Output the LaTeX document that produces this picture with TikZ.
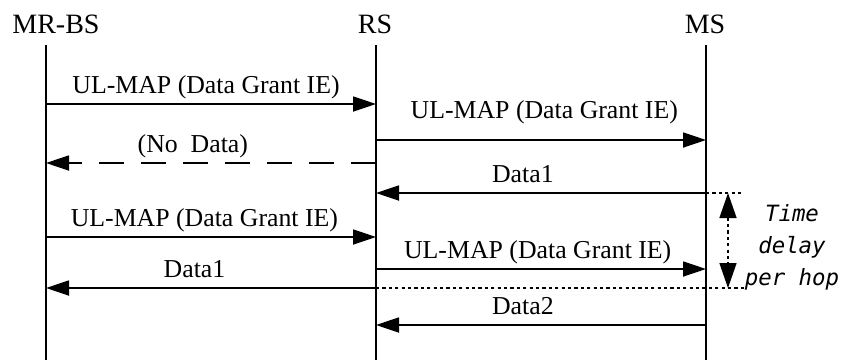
\documentclass[tikz,border=0pt]{standalone}
\usepackage{fontspec}
\setmainfont{Liberation Serif}
\newfontfamily\hopfont{DejaVu Sans Mono}
\usetikzlibrary{arrows.meta}

\begin{document}
\begin{tikzpicture}[x=0.5pt, y=-0.5pt, line width=0.9pt,
  msg/.style={-{Triangle[length=11.5pt,width=7.5pt]}},
  nodata/.style={msg, dash pattern=on 12.5pt off 8.5pt},
  fine/.style={line width=0.7pt, dash pattern=on 1.6pt off 1.6pt},
  lbl/.style={above, text depth=0pt, inner ysep=5pt,
              font=\fontsize{12.9}{15}\selectfont},
  head/.style={anchor=base, font=\fontsize{14}{16}\selectfont}]

\useasboundingbox (0,0) rectangle (841,360);

\node[head] (bs) at (56,33) {MR-BS};
\node[head] (rs) at (375,33) {RS};
\node[head] (ms) at (705,33) {MS};

\coordinate (bs0) at (46,45);  \coordinate (bs1) at (46,360);
\coordinate (rs0) at (376,45); \coordinate (rs1) at (376,360);
\coordinate (ms0) at (706,45); \coordinate (ms1) at (706,360);
\draw (bs0) -- (bs1);
\draw (rs0) -- (rs1);
\draw (ms0) -- (ms1);

\coordinate (r1) at (0,104);
\coordinate (r2) at (0,140);
\coordinate (r3) at (0,163);
\coordinate (r4) at (0,193);
\coordinate (r5) at (0,237);
\coordinate (r6) at (0,269);
\coordinate (r7) at (0,288);
\coordinate (r8) at (0,325);

\draw[msg] (bs0 |- r1) -- (rs0 |- r1)
  node[lbl, pos=0.485] {UL-MAP (Data Grant IE)};
\draw[msg] (rs0 |- r2) -- (ms0 |- r2)
  node[lbl, pos=0.51, yshift=5.5pt] {UL-MAP (Data Grant IE)};
\draw[nodata] (rs0 |- r3) -- (bs0 |- r3)
  node[lbl, pos=0.555] {(No\ \ Data)};
\draw[msg] (ms0 |- r4) -- (rs0 |- r4)
  node[lbl, pos=0.555] {Data1};
\draw[msg] (bs0 |- r5) -- (rs0 |- r5)
  node[lbl, pos=0.48] {UL-MAP (Data Grant IE)};
\draw[msg] (rs0 |- r6) -- (ms0 |- r6)
  node[lbl, pos=0.49] {UL-MAP (Data Grant IE)};
\draw[msg] (rs0 |- r7) -- (bs0 |- r7)
  node[lbl, pos=0.55] {Data1};
\draw[msg] (ms0 |- r8) -- (rs0 |- r8)
  node[lbl, pos=0.555] {Data2};

\coordinate (d1) at (743,193);
\coordinate (d2) at (745,288);
\draw[fine] (ms0 |- r4) -- (d1);
\draw[fine] (rs0 |- r7) -- (d2);

\coordinate (t1) at (728,193);
\coordinate (t2) at (728,288);
\draw[fine, {Triangle[length=12.5pt,width=8.5pt]}-{Triangle[length=12.5pt,width=8.5pt]}]
  (t1) -- (t2);

\node[align=center, font=\hopfont\itshape\fontsize{11.2}{16}\selectfont] (hop) at (792,247)
  {Time\\delay\\per hop};
\end{tikzpicture}
\end{document}
